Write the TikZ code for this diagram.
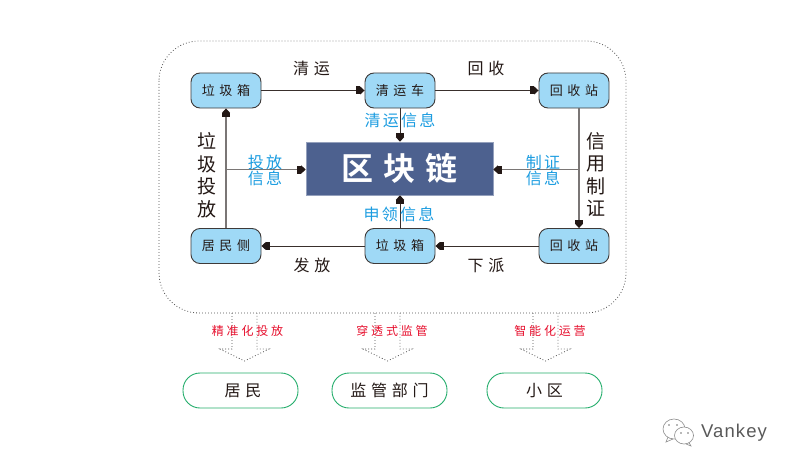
\documentclass[tikz,border=0pt]{standalone}
\usepackage{fontspec}
\usetikzlibrary{arrows.meta,calc}
\newfontfamily\cjkbox[LetterSpace=35]{Noto Sans CJK SC}
\newfontfamily\cjkverb[LetterSpace=30]{Noto Sans CJK SC}
\newfontfamily\cjkinfo[LetterSpace=14]{Noto Sans CJK SC}
\newfontfamily\cjkred[LetterSpace=23]{Noto Sans CJK SC}
\newfontfamily\cjkplain{Noto Sans CJK SC}
\newfontfamily\cjkb[LetterSpace=32]{Noto Sans CJK SC Bold}
\newfontfamily\latinf[LetterSpace=6]{Liberation Sans}
\definecolor{boxfill}{HTML}{9FD9F6}
\definecolor{boxline}{HTML}{3E3A39}
\definecolor{chainfill}{HTML}{4D618F}
\definecolor{bluetxt}{HTML}{1B9CE0}
\definecolor{redtxt}{HTML}{E60F2D}
\definecolor{greenline}{HTML}{22AC6A}
\definecolor{greyline}{HTML}{7A7675}
\definecolor{darktxt}{HTML}{231815}
\tikzset{
  tip/.tip={Square[length=4pt,width=8pt,sep=0pt,color=darktxt]Triangle[length=4.5pt,width=8pt,color=darktxt]},
  flow/.style={line width=1pt,draw=darktxt!90,-{tip}},
  vflow/.style={line width=1.2pt,draw=greyline,-{tip}},
  station/.style={draw=boxline,line width=.9pt,fill=boxfill,rounded corners=9pt,minimum width=70pt,minimum height=35pt,inner sep=0pt,font=\cjkbox\fontsize{13}{14}\selectfont,text=darktxt},
  target/.style={draw=greenline,line width=.9pt,rounded corners=17pt,minimum width=115pt,minimum height=35pt,inner sep=0pt,font=\cjkverb\fontsize{16}{18}\selectfont,text=darktxt},
  verb/.style={font=\cjkverb\fontsize{16}{18}\selectfont,text=darktxt,inner sep=0pt},
  stack/.style={font=\cjkplain\fontsize{19}{22.5}\selectfont,text=darktxt,align=center,inner sep=0pt},
  info/.style={font=\cjkinfo\fontsize{16}{16.5}\selectfont,text=bluetxt,align=center,inner sep=0pt},
  gain/.style={font=\cjkred\fontsize{12}{14}\selectfont,text=redtxt,inner sep=0pt},
  dotline/.style={draw=black!70,line width=.8pt,dash pattern=on .8pt off 2.2pt},
}
\begin{document}
\begin{tikzpicture}[x=1pt,y=-1pt]
\useasboundingbox (0,0) rectangle (791,468);
\draw[dotline,rounded corners=40pt] (159,41) rectangle (626,313);
% hollow dotted arrows
\foreach \c in {244.5,387.5,545.5}{
  \draw[dotline] (\c-12.5,313) -- (\c-12.5,349) -- (\c-24.5,349) -- (\c,361) -- (\c+24.5,349) -- (\c+12.5,349) -- (\c+12.5,313);
}
\node[station] (a) at (226,90.5) {垃圾箱};
\node[station] (b) at (400,90.5) {清运车};
\node[station] (c) at (574,90.5) {回收站};
\node[station] (d) at (226,246) {居民侧};
\node[station] (e) at (400,246) {垃圾箱};
\node[station] (f) at (574,246) {回收站};
\node[fill=chainfill,draw=chainfill!60!white,line width=.6pt,minimum width=187pt,minimum height=53pt,inner sep=0pt,font=\cjkb\fontsize{32}{34}\selectfont,text=white] (chain) at (399.5,168.5) {区块链};
\coordinate (lv) at (226,169.5);
\coordinate (rv) at (579,169.5);
\draw[flow] (a) -- (b);
\draw[flow] (b) -- (c);
\draw[flow] (f) -- (e);
\draw[flow] (e) -- (d);
\draw[vflow] (d) -- (a);
\draw[vflow] (c.south -| rv) -- (f.north -| rv);
\draw[vflow] (lv) -- (chain.west |- lv);
\draw[vflow] (rv) -- (chain.east |- rv);
\draw[flow] (b) -- (chain.north -| b);
\draw[flow] (e) -- (chain.south -| e);
\node[verb] (t1) at (311.5,68) {清运};
\node[verb] (t2) at (486,68) {回收};
\node[verb] (t3) at (312,265) {发放};
\node[verb] (t4) at (486,265) {下派};
\node[stack] (s1) at (207,175) {垃\\圾\\投\\放};
\node[stack] (s2) at (596,174.5) {信\\用\\制\\证};
\node[info] (i1) at (400,120.5) {清运信息};
\node[info] (i2) at (399,214) {申领信息};
\node[info] (i3) at (265,170.5) {投放\\信息};
\node[info] (i4) at (543,170.5) {制证\\信息};
\node[gain] (g1) at (247.5,331) {精准化投放};
\node[gain] (g2) at (392,331) {穿透式监管};
\node[gain] (g3) at (550,331) {智能化运营};
\node[target] (r1) at (240.5,390.5) {\hspace{5pt}居民};
\node[target] (r2) at (389.5,390.5) {监管部门};
\node[target] (r3) at (544.5,390.5) {小区};
% watermark
\draw[black!45,line width=.6pt,fill=white] (674,429) ellipse (11pt and 10pt);
\draw[black!45,line width=.6pt] (668,437) -- (666,442) -- (673,439);
\draw[black!45,line width=.6pt,fill=white] (684,435.5) ellipse (9.5pt and 8.5pt);
\draw[black!45,line width=.6pt] (689,442.5) -- (691,446) -- (686,444);
\foreach \p in {(669,425),(677,425),(681,433),(688,433)}{\fill[black!55] \p circle (.9pt);}
\node[font=\latinf\fontsize{18.5}{20}\selectfont,text=black!65,inner sep=0pt] (w) at (734,433) {Vankey};
\end{tikzpicture}
\end{document}
